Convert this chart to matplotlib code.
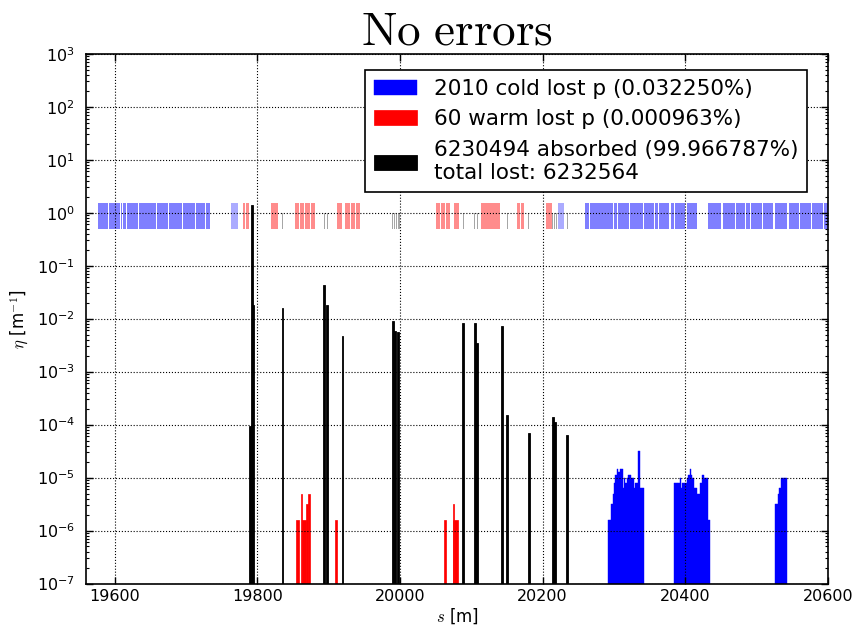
"""Loss map around IR: cold / warm losses and absorbed particles, log scale."""

import matplotlib
matplotlib.use("Agg")
import matplotlib.pyplot as plt
from matplotlib.ticker import LogLocator, NullFormatter

# aperture band (drawn between 0.5 and 1.5)
cold_start = [19577.1, 19592.5, 19608.4, 19611.7, 19616.9, 19634.6, 19654.3, 19659.0,
              19676.8, 19695.5, 19714.2, 19728.3,
              20259.2, 20266.2, 20283.5, 20299.9, 20306.0, 20322.4, 20341.6, 20358.0,
              20363.6, 20380.0, 20385.6, 20402.0, 20432.4, 20452.5, 20471.3, 20485.3,
              20492.3, 20508.7, 20525.1, 20544.8, 20560.2, 20578.0, 20594.4]
cold_end = [19591.1, 19607.5, 19610.8, 19615.4, 19633.2, 19653.4, 19658.1, 19675.4,
            19694.1, 19712.8, 19726.9, 19733.9,
            20264.8, 20282.6, 20299.0, 20304.6, 20321.0, 20340.2, 20356.6, 20362.2,
            20377.6, 20383.7, 20399.6, 20416.5, 20450.2, 20469.9, 20483.9, 20490.9,
            20507.3, 20522.8, 20542.9, 20558.8, 20576.6, 20593.0, 20607.0]
cold_light_start = [19763.5, 20221.0]
cold_light_end = [19772.5, 20230.0]
warm_start = [19780.5, 19784.5, 19819.5, 19824.0, 19852.8, 19860.0, 19867.0, 19875.0,
              19911.4, 19923.1, 19931.0, 19938.0, 20049.9, 20057.0, 20064.0, 20075.7,
              20113.1, 20121.0, 20128.0, 20135.0, 20164.6, 20170.0, 20204.4, 20209.5]
warm_end = [19783.5, 19788.0, 19823.0, 19828.5, 19859.0, 19866.0, 19874.0, 19880.9,
            19918.4, 19930.0, 19937.0, 19944.6, 20056.0, 20063.0, 20070.0, 20082.2,
            20120.0, 20127.0, 20134.0, 20140.7, 20169.0, 20173.5, 20208.5, 20213.3]
coll_pos = [19835.5, 19894.0, 19898.7, 19990.0, 19992.5, 19995.0, 19997.5, 19999.4,
            20089.5, 20105.0, 20109.0, 20144.5, 20150.6, 20180.5, 20186.6, 20214.0,
            20216.5, 20219.0, 20234.8]

# absorbed (collimators)
abs_s = [19788.6, 19791.0, 19793.5, 19834.5, 19892.3, 19896.5, 19918.3, 19989.5,
         19991.8, 19995.5, 20087.5, 20104.5, 20106.5, 20142.0, 20149.0, 20180.0,
         20213.3, 20215.5, 20232.5]
abs_w = [2.0, 2.5, 2.5, 1.5, 3.0, 3.0, 1.5, 2.0, 3.0, 3.0, 3.0, 2.5, 3.5, 2.0, 2.0,
         3.0, 2.5, 3.0, 3.0]
abs_eta = [9.6e-5, 1.4, 1.8e-2, 1.6e-2, 4.4e-2, 1.8e-2, 4.7e-3, 8.9e-3, 5.8e-3,
           5.6e-3, 8.1e-3, 8.1e-3, 3.4e-3, 7.2e-3, 1.5e-4, 6.9e-5, 1.4e-4, 1.1e-4,
           6.4e-5]

# warm losses
warm_s = [19854.5, 19861.2, 19863.2, 19868.7, 19870.8, 19909.4, 20061.6, 20074.3,
          20074.7, 20076.0]
warm_w = [3.5, 2.0, 5.5, 2.0, 3.2, 2.2, 2.6, 0.5, 1.0, 5.3]
warm_eta = [1.6e-6, 4.8e-6, 1.6e-6, 3.2e-6, 4.8e-6, 1.6e-6, 1.6e-6, 1.6e-6,
            3.2e-6, 1.6e-6]

# cold losses (2 m bins)
cold_s = [20292, 20294, 20296, 20298, 20300, 20302, 20304, 20306, 20308, 20310,
          20312, 20314, 20316, 20318, 20320, 20322, 20324, 20326, 20328, 20330,
          20332, 20334, 20336, 20338, 20340,
          20384, 20386, 20388, 20390, 20392, 20394, 20396, 20398, 20400, 20402,
          20404, 20406, 20408, 20410, 20412, 20414, 20416, 20418, 20420, 20422,
          20424, 20426, 20428, 20430, 20432,
          20526, 20528, 20530, 20532, 20534, 20536, 20538, 20540]
cold_eta = [1.6e-6, 1.6e-6, 3.2e-6, 4.8e-6, 8.0e-6, 1.12e-5, 1.44e-5, 1.28e-5, 1.44e-5, 1.44e-5,
            6.4e-6, 9.6e-6, 8.0e-6, 9.6e-6, 1.12e-5, 1.12e-5, 9.6e-6, 9.6e-6, 6.4e-6, 8.0e-6,
            8.0e-6, 3.2e-5, 6.4e-6, 6.4e-6, 6.4e-6,
            8.0e-6, 8.0e-6, 8.0e-6, 8.0e-6, 9.6e-6, 6.4e-6, 8.0e-6, 8.0e-6, 8.0e-6, 9.6e-6,
            1.12e-5, 1.44e-5, 1.12e-5, 9.6e-6, 6.4e-6, 6.4e-6, 4.8e-6, 4.8e-6, 8.0e-6, 8.0e-6,
            1.12e-5, 9.6e-6, 9.6e-6, 9.6e-6, 1.6e-6,
            3.2e-6, 3.2e-6, 4.8e-6, 6.4e-6, 9.6e-6, 9.6e-6, 9.6e-6, 9.6e-6]

labels = ["2010 cold lost p (0.032250%)",
          "60 warm lost p (0.000963%)",
          "6230494 absorbed (99.966787%)\ntotal lost: 6232564"]


def widths(a, b):
    return [e - s for s, e in zip(a, b)]


fig = plt.figure(figsize=(8.56, 6.29), dpi=100)
ax = fig.add_axes([86 / 856, 1 - 583.5 / 629, 742 / 856, 529.7 / 629])
ax.set_yscale("log")

# aperture band
ax.bar(cold_start, 1.0, width=widths(cold_start, cold_end), bottom=0.5, align="edge",
       color="blue", alpha=0.5, linewidth=0)
ax.bar(cold_light_start, 1.0, width=widths(cold_light_start, cold_light_end), bottom=0.5,
       align="edge", color="blue", alpha=0.33, linewidth=0)
ax.bar(warm_start, 1.0, width=widths(warm_start, warm_end), bottom=0.5, align="edge",
       color="red", alpha=0.45, linewidth=0)
ax.bar(coll_pos, 0.5, width=1.2, bottom=0.5, align="center",
       color="black", alpha=0.35, linewidth=0)

# losses
h_cold = ax.bar(cold_s, cold_eta, width=2.0, bottom=1e-9, align="edge",
                color="blue", edgecolor="blue", linewidth=0.3)
h_warm = ax.bar(warm_s, warm_eta, width=warm_w, bottom=1e-9, align="edge",
                color="red", edgecolor="red", linewidth=0.5)
h_abs = ax.bar(abs_s, abs_eta, width=abs_w, bottom=1e-9, align="edge",
               color="black", edgecolor="black", linewidth=0.6)

ax.set_xlim(19560, 20600)
ax.set_ylim(1e-7, 1e3)
ax.set_xticks([19600, 19800, 20000, 20200, 20400, 20600])
ax.yaxis.set_major_locator(LogLocator(base=10, numticks=20))
ax.yaxis.set_minor_locator(LogLocator(base=10, subs=range(2, 10), numticks=20))
ax.yaxis.set_minor_formatter(NullFormatter())
ax.grid(True, which="major", color="black", linestyle=":", linewidth=0.8)
ax.tick_params(which="both", direction="in", top=True, right=True)
ax.tick_params(which="major", length=5, width=1)
ax.tick_params(which="minor", length=2.5, width=0.8)
ax.tick_params(axis="x", which="minor", bottom=False, top=False)
ax.tick_params(axis="x", labelsize=11.5, pad=4)
ax.tick_params(axis="y", labelsize=11.5, pad=8)
for sp in ax.spines.values():
    sp.set_linewidth(1.2)

ax.set_xlabel(r"$s$ [m]", fontsize=12, math_fontfamily="cm", labelpad=2)
ax.set_ylabel(r"$\eta$ [m$^{-1}$]", fontsize=12, math_fontfamily="cm", labelpad=4)
ax.set_title(r"$\mathrm{No\ errors}$", fontsize=34, math_fontfamily="cm", pad=7)

leg = ax.legend([h_cold, h_warm, h_abs], labels, loc="upper right",
                bbox_to_anchor=(0.9717, 0.9694), borderaxespad=0, fontsize=15.5,
                fancybox=False, framealpha=1, edgecolor="black")
leg.get_frame().set_linewidth(1.2)

fig.savefig("out.png", dpi=100, facecolor="white")
